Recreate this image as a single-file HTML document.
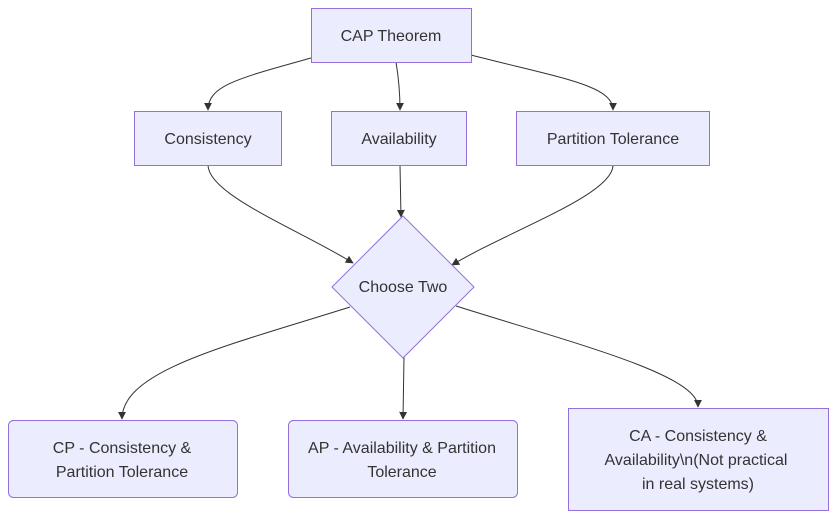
<!DOCTYPE html>
<html><head><meta charset="utf-8"><style>
html,body{margin:0;padding:0;background:#fff;}
svg{display:block;}
text{font-family:"Liberation Sans",Arial,sans-serif;font-size:16px;fill:#333;text-anchor:middle;}
.n{fill:#ECECFF;stroke:#9370DB;stroke-width:1;}
.e{fill:none;stroke:#333;stroke-width:1;}
</style></head><body>
<svg width="836" height="519" viewBox="0 0 836 519" xmlns="http://www.w3.org/2000/svg">
<defs><marker id="a" viewBox="0 0 10 10" refX="9" refY="5" markerWidth="8" markerHeight="8" orient="auto"><path d="M0,0L10,5L0,10z" fill="#333"/></marker></defs>
<path class="e" marker-end="url(#a)" d="M311,58 C240,78 208,85 208,110"/>
<path class="e" marker-end="url(#a)" d="M396,62 C399,80 400,95 400,110"/>
<path class="e" marker-end="url(#a)" d="M471,55 C560,78 613,85 613,110"/>
<path class="e" marker-end="url(#a)" d="M208,165 C208,195 300,230 353,263"/>
<path class="e" marker-end="url(#a)" d="M400,165 L401,217"/>
<path class="e" marker-end="url(#a)" d="M613,165 C613,195 510,230 452,265"/>
<path class="e" marker-end="url(#a)" d="M350,307 C230,345 122,370 122,419"/>
<path class="e" marker-end="url(#a)" d="M404,357 L403,419"/>
<path class="e" marker-end="url(#a)" d="M456,306 C580,345 698,375 698,407"/>
<rect class="n" x="311.5" y="8.5" width="160" height="54"/>
<text x="391" y="41">CAP Theorem</text>
<rect class="n" x="134.5" y="111.5" width="147" height="54"/>
<text x="208" y="144">Consistency</text>
<rect class="n" x="331.5" y="111.5" width="135" height="54"/>
<text x="399" y="144">Availability</text>
<rect class="n" x="516.5" y="111.5" width="193" height="54"/>
<text x="613" y="144">Partition Tolerance</text>
<polygon class="n" points="403,216 474,287 403,358 332,287"/>
<text x="403" y="292">Choose Two</text>
<rect class="n" x="8.5" y="420.5" width="229" height="77" rx="5"/>
<text x="122" y="453">CP - Consistency &amp;</text>
<text x="122" y="477">Partition Tolerance</text>
<rect class="n" x="288.5" y="420.5" width="229" height="77" rx="5"/>
<text x="402" y="453">AP - Availability &amp; Partition</text>
<text x="402" y="477">Tolerance</text>
<rect class="n" x="568.5" y="408.5" width="260" height="102"/>
<text x="698" y="441">CA - Consistency &amp;</text>
<text x="696" y="465">Availability\n(Not practical</text>
<text x="698" y="489">in real systems)</text>
</svg>
</body></html>
